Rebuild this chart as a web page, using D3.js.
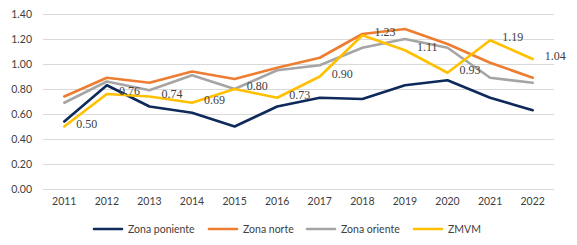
<!DOCTYPE html>
<html><head><meta charset="utf-8">
<script src="https://cdn.jsdelivr.net/npm/d3@7"></script>
<style>body{margin:0;background:#fff}</style>
</head><body>
<svg id="c" width="577" height="245"></svg>
<script>
const years = ["2011","2012","2013","2014","2015","2016","2017","2018","2019","2020","2021","2022"];
const poniente = [0.54,0.83,0.66,0.61,0.50,0.66,0.73,0.72,0.83,0.87,0.73,0.63];
const norte    = [0.74,0.89,0.85,0.94,0.88,0.97,1.05,1.24,1.28,1.16,1.01,0.89];
const oriente  = [0.69,0.86,0.79,0.91,0.80,0.95,0.99,1.13,1.20,1.13,0.89,0.85];
const zmvm     = [0.50,0.76,0.74,0.69,0.80,0.73,0.90,1.23,1.11,0.93,1.19,1.04];
const yTicks = [0,0.2,0.4,0.6,0.8,1.0,1.2,1.4];
const seriesNames = ["Zona poniente","Zona norte","Zona oriente","ZMVM"];
const colors = ["#0E2A5A","#ED7D31","#A5A5A5","#FFC000"];
const seriesData = [poniente,norte,oriente,zmvm];

const svg = d3.select("#c");
const L=43, R=554, T=14, B=189;
const x = d3.scaleBand().domain(years).range([L,R]);
const y = d3.scaleLinear().domain([0,1.4]).range([B,T]);
const font = "Lato, 'Open Sans', sans-serif";

// grid
svg.append("g").selectAll("line").data(yTicks).join("line")
  .attr("x1",L).attr("x2",R).attr("y1",d=>Math.round(y(d))+0.5).attr("y2",d=>Math.round(y(d))+0.5)
  .attr("stroke","#d9d9d9").attr("stroke-width",1);
svg.append("g").selectAll("text").data(yTicks).join("text")
  .attr("x",32).attr("y",d=>y(d)).attr("dy","0.35em").attr("text-anchor","end")
  .attr("font-family",font).attr("font-size",10.5).attr("fill","#404040")
  .text(d=>d.toFixed(2));
svg.append("g").selectAll("text").data(years).join("text")
  .attr("x",d=>x(d)+x.bandwidth()/2).attr("y",201).attr("dy","0.35em").attr("text-anchor","middle")
  .attr("font-family",font).attr("font-size",10.5).attr("fill","#404040")
  .text(d=>d);

const line = d3.line().x((d,i)=>x(years[i])+x.bandwidth()/2).y(d=>y(d));
seriesData.forEach((s,k)=>{
  svg.append("path").datum(s).attr("d",line).attr("fill","none")
    .attr("stroke",colors[k]).attr("stroke-width",2.6).attr("stroke-linejoin","round").attr("stroke-linecap","round");
});
// ZMVM labels
svg.append("g").selectAll("text").data(zmvm).join("text")
  .attr("x",(d,i)=>x(years[i])+x.bandwidth()/2+12).attr("y",d=>y(d)-3).attr("dy","0.35em")
  .attr("font-family","'Liberation Serif', serif").attr("font-size",12).attr("fill","#404040")
  .text(d=>d.toFixed(2));

// legend
const legX = [94,209,307,414];
const lg = svg.append("g").selectAll("g").data(seriesNames).join("g")
  .attr("transform",(d,i)=>`translate(${legX[i]},229)`);
lg.append("line").attr("x1",0).attr("x2",28).attr("stroke",(d,i)=>colors[i]).attr("stroke-width",2.6).attr("stroke-linecap","round");
lg.append("text").attr("x",34).attr("dy","0.35em").attr("font-family",font).attr("font-size",10.5).attr("fill","#404040").text(d=>d);
</script>
</body></html>
